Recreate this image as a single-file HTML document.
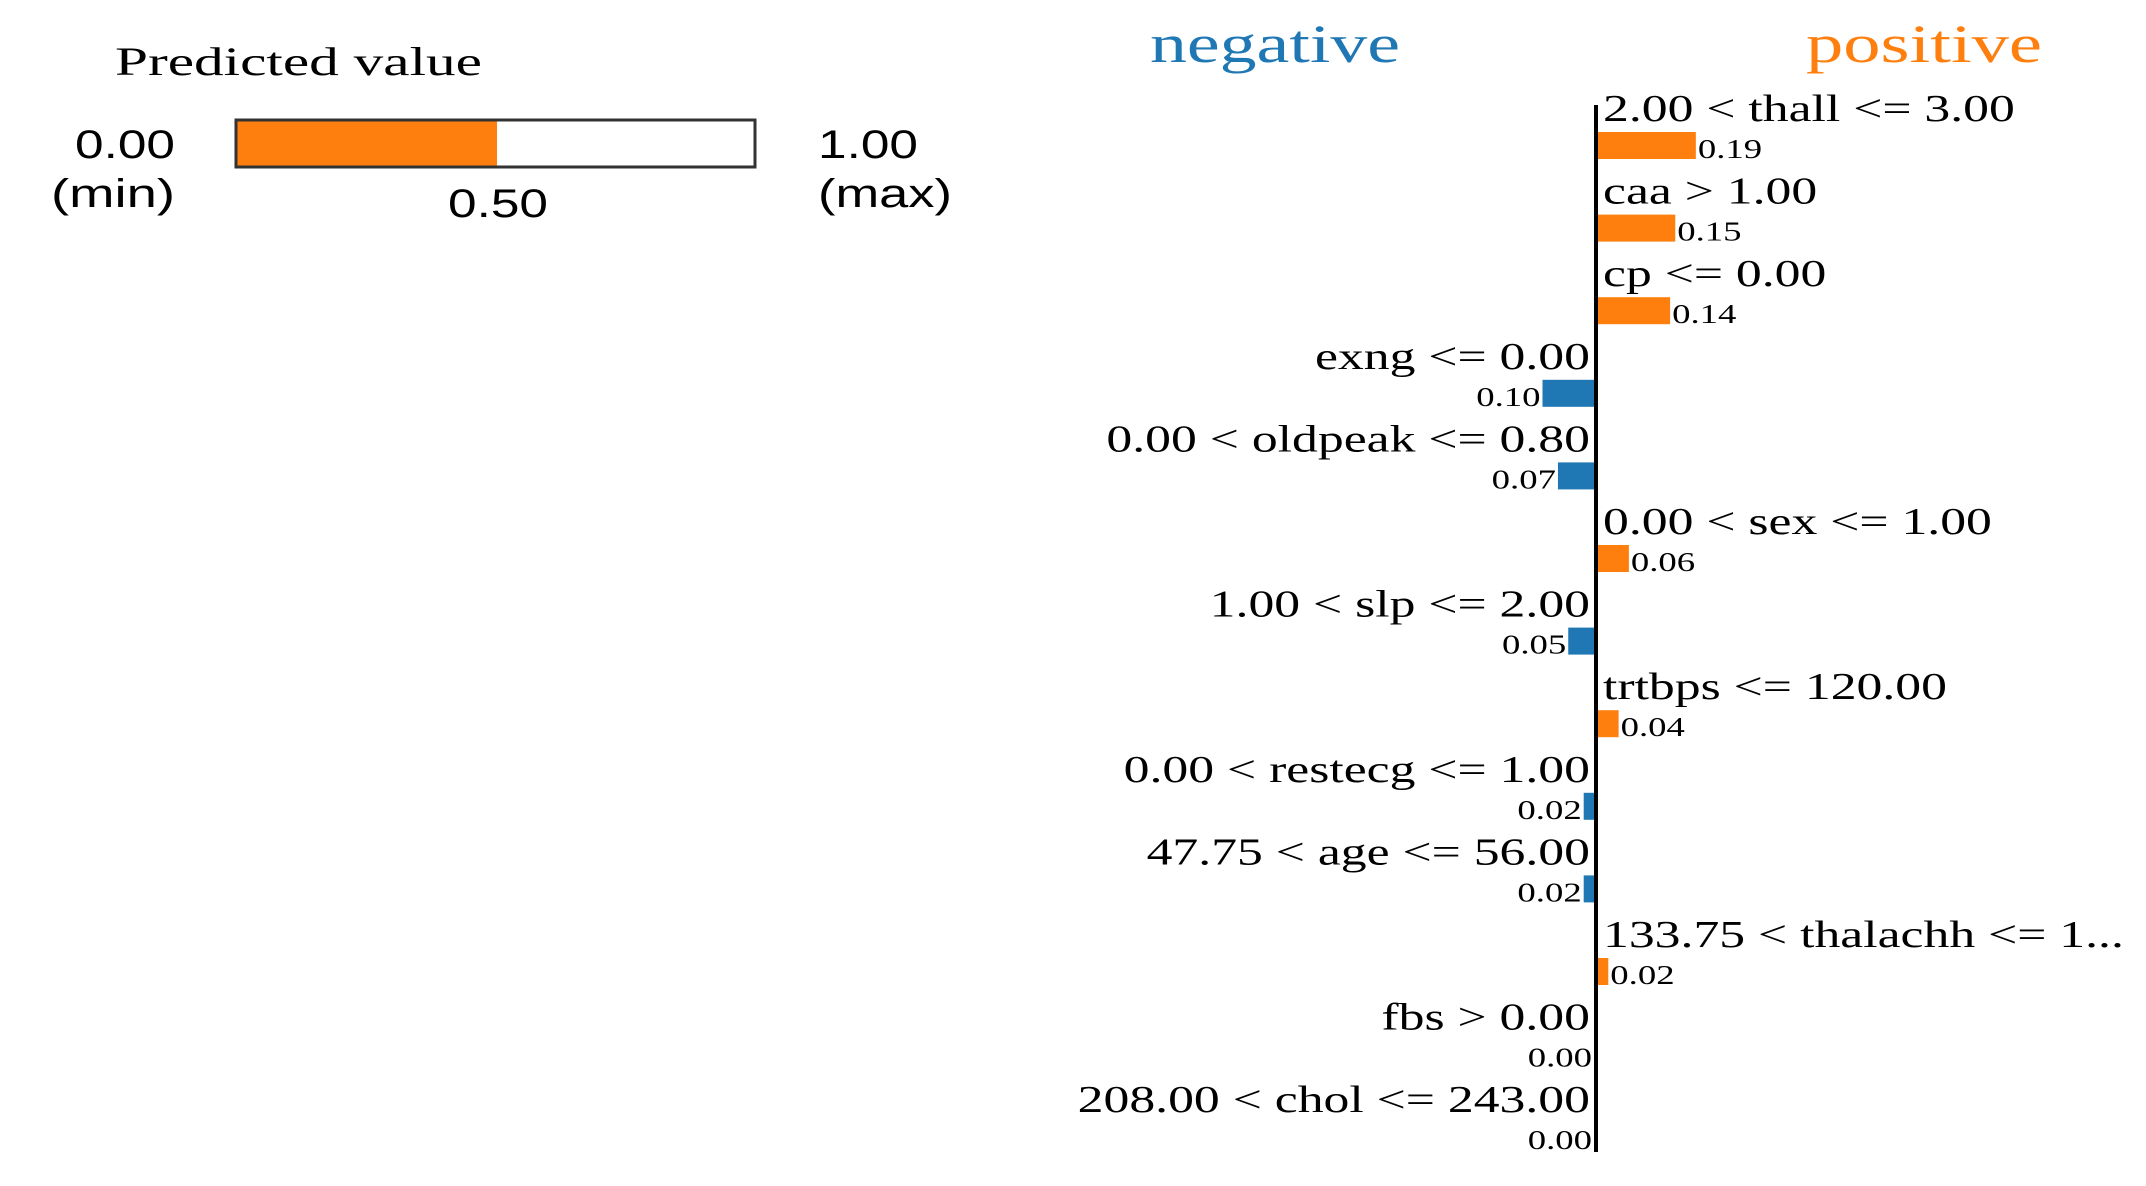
<!DOCTYPE html>
<html><head><meta charset="utf-8"><style>
html,body{margin:0;padding:0;background:#fff;width:2146px;height:1186px;overflow:hidden}
svg{display:block}
.serif{font-family:"Liberation Serif",serif}
.sans{font-family:"Liberation Sans",sans-serif}
</style></head><body>
<svg id="chart" width="2146" height="1186" viewBox="0 0 2146 1186">
  <g>
    <text class="serif" x="115" y="75" font-size="40" textLength="367" lengthAdjust="spacingAndGlyphs" fill="#000">Predicted value</text>
    <rect x="236" y="120" width="261" height="47" fill="#ff7f0e"/>
    <rect x="236" y="120" width="519" height="47" fill="none" stroke="#333" stroke-width="3"/>
    <text class="sans" x="75" y="158" font-size="40" textLength="100" lengthAdjust="spacingAndGlyphs">0.00</text>
    <text class="sans" x="51" y="207" font-size="40" textLength="124" lengthAdjust="spacingAndGlyphs">(min)</text>
    <text class="sans" x="448" y="217" font-size="40" textLength="100" lengthAdjust="spacingAndGlyphs">0.50</text>
    <text class="sans" x="818" y="158" font-size="40" textLength="100" lengthAdjust="spacingAndGlyphs">1.00</text>
    <text class="sans" x="818" y="207" font-size="40" textLength="134" lengthAdjust="spacingAndGlyphs">(max)</text>
  </g>
  <text class="serif" x="1150" y="62" font-size="54" fill="#1f77b4" textLength="250" lengthAdjust="spacingAndGlyphs">negative</text>
  <text class="serif" x="1806" y="62" font-size="54" fill="#ff7f0e" textLength="236" lengthAdjust="spacingAndGlyphs">positive</text>
  <g id="bars"></g>
  <line x1="1596" y1="105" x2="1596" y2="1152" stroke="#000" stroke-width="4"/>
</svg>
<script>
const features = ["2.00 < thall <= 3.00","caa > 1.00","cp <= 0.00","exng <= 0.00","0.00 < oldpeak <= 0.80","0.00 < sex <= 1.00","1.00 < slp <= 2.00","trtbps <= 120.00","0.00 < restecg <= 1.00","47.75 < age <= 56.00","133.75 < thalachh <= 1...","fbs > 0.00","208.00 < chol <= 243.00"];
const weights = [0.19,0.15,0.14,-0.10,-0.07,0.06,-0.05,0.04,-0.02,-0.02,0.02,-0.00,-0.00];
const valueLabels = ["0.19","0.15","0.14","0.10","0.07","0.06","0.05","0.04","0.02","0.02","0.02","0.00","0.00"];

const NS = "http://www.w3.org/2000/svg";
const g = document.getElementById('bars');
const axisX = 1596, pxPerUnit = 515, row0 = 121, rowStep = 82.6, stretch = 1.36;
const xw = v => Math.abs(v) * pxPerUnit;
const yRow = i => row0 + i * rowStep;

features.forEach((f, i) => {
  const w = weights[i];
  const pos = w > 0;
  const base = yRow(i);
  const label = document.createElementNS(NS, 'text');
  
  
  label.setAttribute('class', 'serif');
  label.setAttribute('font-size', '38');
  label.setAttribute('y', base);
  label.setAttribute('x', pos ? axisX + 7 : axisX - 6);
  label.setAttribute('text-anchor', pos ? 'start' : 'end');
  label.textContent = f;
  g.appendChild(label);
  label.setAttribute('textLength', label.getComputedTextLength() * stretch);
  label.setAttribute('lengthAdjust', 'spacingAndGlyphs');

  const bw = xw(w);
  const bar = document.createElementNS(NS, 'rect');
  
  
  bar.setAttribute('x', pos ? axisX + 2 : axisX - 2 - bw);
  bar.setAttribute('y', base + 11);
  bar.setAttribute('width', bw);
  bar.setAttribute('height', 27);
  bar.setAttribute('fill', pos ? '#ff7f0e' : '#1f77b4');
  g.appendChild(bar);

  const vt = document.createElementNS(NS, 'text');
  
  
  vt.setAttribute('class', 'serif');
  vt.setAttribute('font-size', '27');
  vt.setAttribute('y', base + 37);
  vt.setAttribute('x', pos ? axisX + 4 + bw : axisX - 4 - bw);
  vt.setAttribute('text-anchor', pos ? 'start' : 'end');
  vt.textContent = valueLabels[i];
  g.appendChild(vt);
  vt.setAttribute('textLength', vt.getComputedTextLength() * stretch);
  vt.setAttribute('lengthAdjust', 'spacingAndGlyphs');
});
</script>
</body></html>
